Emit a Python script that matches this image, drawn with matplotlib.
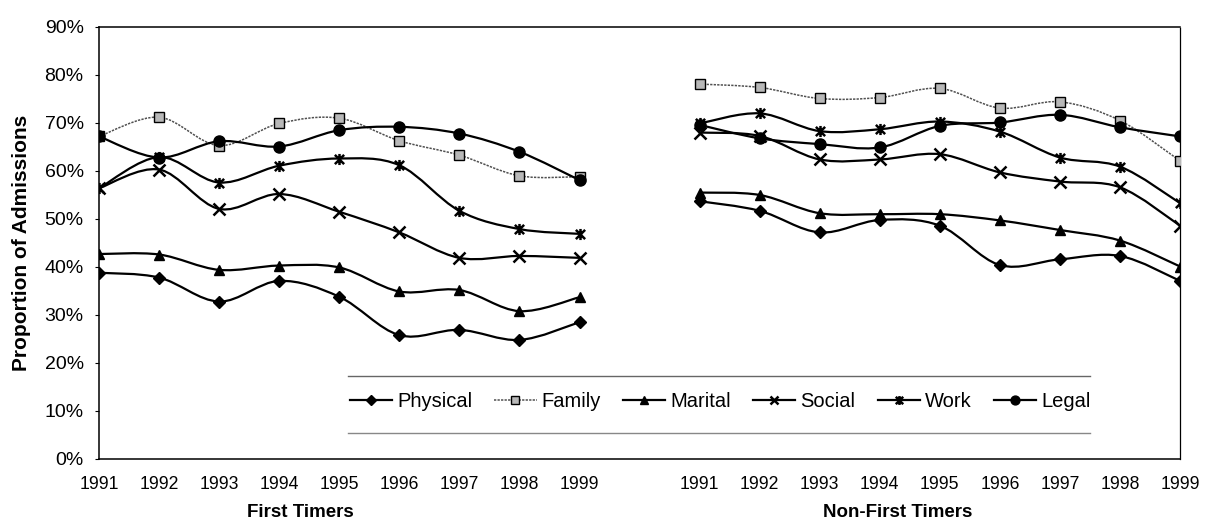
import matplotlib.pyplot as plt
from matplotlib.lines import Line2D
from matplotlib.path import Path
from matplotlib.patches import PathPatch
from matplotlib.ticker import PercentFormatter

plt.rcParams['font.family'] = ['Liberation Sans', 'DejaVu Sans']

# --- data ---
years = [1991, 1992, 1993, 1994, 1995, 1996, 1997, 1998, 1999]
groups = ["First Timers", "Non-First Timers"]
series_names = ["Physical", "Family", "Marital", "Social", "Work", "Legal"]

# First Timers
physical_first = [0.388, 0.378, 0.328, 0.371, 0.338, 0.258, 0.269, 0.248, 0.285]
family_first = [0.672, 0.712, 0.653, 0.699, 0.710, 0.663, 0.633, 0.590, 0.588]
marital_first = [0.427, 0.426, 0.394, 0.403, 0.399, 0.349, 0.352, 0.308, 0.337]
social_first = [0.564, 0.603, 0.521, 0.552, 0.515, 0.472, 0.419, 0.423, 0.419]
work_first = [0.564, 0.629, 0.576, 0.611, 0.626, 0.612, 0.517, 0.479, 0.469]
legal_first = [0.672, 0.628, 0.662, 0.651, 0.685, 0.692, 0.678, 0.640, 0.581]

# Non-First Timers
physical_non = [0.537, 0.517, 0.472, 0.498, 0.486, 0.404, 0.416, 0.423, 0.371]
family_non = [0.781, 0.774, 0.751, 0.753, 0.772, 0.731, 0.744, 0.705, 0.621]
marital_non = [0.555, 0.550, 0.512, 0.510, 0.510, 0.497, 0.477, 0.455, 0.401]
social_non = [0.680, 0.673, 0.624, 0.624, 0.635, 0.597, 0.578, 0.566, 0.486]
work_non = [0.699, 0.720, 0.683, 0.687, 0.703, 0.682, 0.628, 0.609, 0.533]
legal_non = [0.696, 0.668, 0.656, 0.649, 0.694, 0.701, 0.717, 0.691, 0.672]

first_values = [physical_first, family_first, marital_first, social_first, work_first, legal_first]
non_values = [physical_non, family_non, marital_non, social_non, work_non, legal_non]

# asterisk marker like Excel's (x plus a vertical bar)
star = Path([(-1, -1), (1, 1), (-1, 1), (1, -1), (0, -1.2), (0, 1.2)],
            [Path.MOVETO, Path.LINETO, Path.MOVETO, Path.LINETO, Path.MOVETO, Path.LINETO])

styles = {
    "Physical": dict(marker="D", ms=6, mfc="black", mec="black", color="black", lw=1.6, ls="-"),
    "Family": dict(marker="s", ms=6.5, mfc="#b8b8b8", mec="black", color="#505050", lw=1.1, ls=(0, (1.5, 0.8))),
    "Marital": dict(marker="^", ms=7, mfc="black", mec="black", color="black", lw=1.6, ls="-"),
    "Social": dict(marker="x", ms=8, mfc="black", mec="black", color="black", lw=1.6, ls="-", mew=1.8),
    "Work": dict(marker=star, ms=8, mfc="black", mec="black", color="black", lw=1.6, ls="-", mew=1.8),
    "Legal": dict(marker="o", ms=8, mfc="black", mec="black", color="black", lw=1.6, ls="-"),
}


def smooth_path(xs, ys):
    # Excel style smoothed line: cubic bezier through every point
    pts = list(zip(xs, ys))
    verts = [pts[0]]
    codes = [Path.MOVETO]
    n = len(pts)
    for i in range(n - 1):
        p0 = pts[i - 1] if i > 0 else pts[i]
        p1 = pts[i]
        p2 = pts[i + 1]
        p3 = pts[i + 2] if i + 2 < n else pts[i + 1]
        c1 = (p1[0] + (p2[0] - p0[0]) / 6, p1[1] + (p2[1] - p0[1]) / 6)
        c2 = (p2[0] - (p3[0] - p1[0]) / 6, p2[1] - (p3[1] - p1[1]) / 6)
        verts += [c1, c2, p2]
        codes += [Path.CURVE4] * 3
    return Path(verts, codes)


fig = plt.figure(figsize=(12.09, 5.31), dpi=100)
ax = fig.add_axes([0.0819, 0.1356, 0.8942, 0.8136])

# category positions: 9 years, one empty slot, 9 years
x_first = list(range(len(years)))
x_non = [i + len(years) + 1 for i in range(len(years))]

for name, vf, vn in zip(series_names, first_values, non_values):
    st = styles[name]
    for xs, ys in [(x_first, vf), (x_non, vn)]:
        ax.add_patch(PathPatch(smooth_path(xs, ys), fill=False, edgecolor=st["color"],
                               lw=st["lw"], linestyle=st["ls"], zorder=2))
        ax.plot(xs, ys, linestyle="none", marker=st["marker"], ms=st["ms"],
                mfc=st["mfc"], mec=st["mec"], mew=st.get("mew", 1.0), zorder=3)

ax.set_xlim(0, x_non[-1])
ax.set_ylim(0, 0.9)
ax.set_yticks([i / 10 for i in range(10)])
ax.yaxis.set_major_formatter(PercentFormatter(1.0, decimals=0))
ax.set_xticks(x_first + x_non)
ax.set_xticklabels([str(y) for y in years] * 2)
ax.tick_params(axis="x", length=0, pad=12, labelsize=12.7)
ax.tick_params(axis="y", length=3, pad=8, labelsize=14, direction="out")

for s in ["left", "bottom", "top"]:
    ax.spines[s].set_color("black")
    ax.spines[s].set_linewidth(1.1)
ax.spines["right"].set_linestyle((0, (1, 1)))
ax.spines["right"].set_linewidth(0.9)

ax.set_ylabel("Proportion of Admissions", fontsize=15, fontweight="bold", labelpad=10)

# group titles under the year labels
ax.text(3.35, -0.125, groups[0], ha="center", va="center", fontsize=13.5, fontweight="bold",
        transform=ax.get_xaxis_transform())
ax.text(13.3, -0.125, groups[1], ha="center", va="center", fontsize=13.5, fontweight="bold",
        transform=ax.get_xaxis_transform())

handles = []
for name in series_names:
    st = styles[name]
    handles.append(Line2D([], [], color=st["color"], lw=st["lw"], ls=st["ls"], marker=st["marker"],
                          ms=st["ms"] * 0.8, mfc=st["mfc"], mec=st["mec"], mew=st.get("mew", 1.0)))
ax.legend(handles, series_names, ncol=6, frameon=False, fontsize=14.5,
          loc="center", bbox_to_anchor=(0.5745, 0.132),
          handlelength=2.1, handletextpad=0.25, columnspacing=1.1)

# legend box top and bottom edges
fig.add_artist(Line2D([348 / 1209, 1090 / 1209], [1 - 376 / 531, 1 - 376 / 531], color="#666666", lw=1))
fig.add_artist(Line2D([348 / 1209, 1090 / 1209], [1 - 433 / 531, 1 - 433 / 531], color="#888888", lw=1))

fig.savefig("out.png", dpi=100)
